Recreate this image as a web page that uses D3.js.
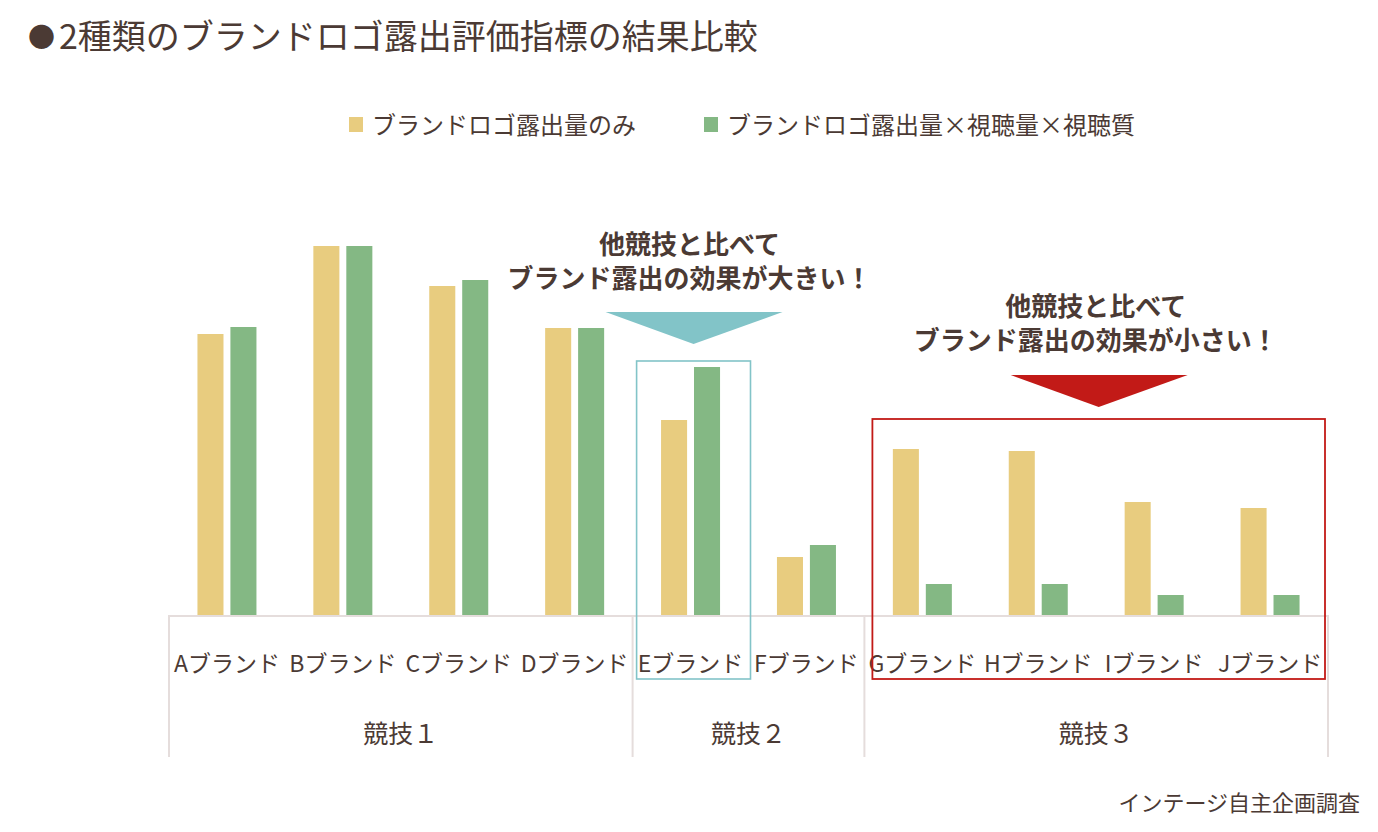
<!DOCTYPE html>
<html lang="ja">
<head>
<meta charset="utf-8">
<script src="https://cdn.jsdelivr.net/npm/d3@7"></script>
<style>
  body { margin: 0; background: #fff; }
  svg text { font-family: "Noto Sans CJK JP", "Noto Sans", sans-serif; fill: #4b3a34; }
</style>
</head>
<body>
<svg id="chart" width="1378" height="832"></svg>
<script>
// data
const brands = ['Aブランド', 'Bブランド', 'Cブランド', 'Dブランド', 'Eブランド',
  'Fブランド', 'Gブランド', 'Hブランド', 'Iブランド', 'Jブランド'];
const sports = ['競技１', '競技２', '競技３'];
const sportOf = [0, 0, 0, 0, 1, 1, 2, 2, 2, 2];
const seriesNames = ['ブランドロゴ露出量のみ', 'ブランドロゴ露出量×視聴量×視聴質'];
const exposureOnly = [281, 369, 329, 287, 195, 58, 166, 164, 113, 107];
const exposureWeighted = [288, 369, 335, 287, 248, 70, 31, 31, 20, 20];

const colors = ['#e8cc7f', '#84b884'];
const gridColor = '#e5dddc';

const svg = d3.select('#chart');
const baseY = 615;

const x = d3.scaleBand().domain(brands).range([169, 1328]);
const xInner = d3.scaleBand().domain([0, 1]).range([0, 59]).paddingInner(0.21);
const y = d3.scaleLinear().domain([0, 369]).range([baseY, 246]);

// title
const title = svg.append('text')
  .attr('x', 28).attr('y', 49);
title.append('tspan')
  .style('font-size', '27px')
  .attr('dy', -2)
  .text('●');
title.append('tspan')
  .style('font-size', '34px')
  .attr('x', 59).attr('dy', 2)
  .text('2種類のブランドロゴ露出評価指標の結果比較');

// legend
const legend = svg.append('g');
const legendX = [349, 704];
seriesNames.forEach((name, i) => {
  legend.append('rect')
    .attr('x', legendX[i]).attr('y', 117).attr('width', 14).attr('height', 15)
    .attr('fill', colors[i]);
  legend.append('text')
    .attr('x', legendX[i] + 23).attr('y', 134)
    .style('font-size', '24px')
    .text(name);
});

// bars
const rows = brands.map((b, i) => ({ brand: b, values: [exposureOnly[i], exposureWeighted[i]] }));
const groups = svg.append('g').selectAll('g')
  .data(rows)
  .join('g')
  .attr('transform', (d) => `translate(${x(d.brand) + (x.bandwidth() - 59) / 2}, 0)`);

groups.selectAll('rect')
  .data((d) => d.values)
  .join('rect')
  .attr('x', (d, i) => xInner(i))
  .attr('width', xInner.bandwidth())
  .attr('y', (d) => y(d))
  .attr('height', (d) => baseY - y(d))
  .attr('fill', (d, i) => colors[i]);

// axis line and group separators
const axis = svg.append('g');
axis.append('line')
  .attr('x1', x.range()[0] - 1).attr('x2', x.range()[1])
  .attr('y1', baseY + 1).attr('y2', baseY + 1)
  .attr('stroke', gridColor).attr('stroke-width', 2);

const sepX = [x(brands[0])];
sports.forEach((s, k) => {
  const last = brands.filter((b, i) => sportOf[i] === k).pop();
  sepX.push(x(last) + x.bandwidth());
});
axis.selectAll('line.sep')
  .data(sepX)
  .join('line')
  .attr('class', 'sep')
  .attr('x1', (d) => d).attr('x2', (d) => d)
  .attr('y1', baseY).attr('y2', 757)
  .attr('stroke', gridColor).attr('stroke-width', 2);

// brand labels
axis.selectAll('text.brand')
  .data(brands)
  .join('text')
  .attr('class', 'brand')
  .attr('x', (d) => x(d) + x.bandwidth() / 2)
  .attr('y', 672)
  .attr('text-anchor', 'middle')
  .style('font-size', '23px')
  .text((d) => d);

// sport labels
axis.selectAll('text.sport')
  .data(sports)
  .join('text')
  .attr('class', 'sport')
  .attr('x', (d, k) => (sepX[k] + sepX[k + 1]) / 2)
  .attr('y', 743)
  .attr('text-anchor', 'middle')
  .style('font-size', '25px')
  .text((d) => d);

// highlight boxes
const eBrand = brands[4];
const blueColor = '#82c4c8';
const blueBox = {
  left: x(eBrand) + 4,
  right: x(eBrand) + x.bandwidth() + 2,
  top: y(exposureWeighted[4]) - 6,
};
svg.append('rect')
  .attr('x', blueBox.left).attr('y', blueBox.top)
  .attr('width', blueBox.right - blueBox.left).attr('height', 679 - blueBox.top)
  .attr('fill', 'none').attr('stroke', blueColor).attr('stroke-width', 1.6);

const redColor = '#c21a17';
const redBox = {
  left: x(brands[6]) + 8,
  right: x(brands[9]) + x.bandwidth() - 3,
  top: y(d3.max(exposureOnly.slice(6))) - 30,
};
svg.append('rect')
  .attr('x', redBox.left).attr('y', redBox.top)
  .attr('width', redBox.right - redBox.left).attr('height', 679 - redBox.top)
  .attr('fill', 'none').attr('stroke', redColor).attr('stroke-width', 1.8);

// arrows
function arrow(cx, top, color) {
  svg.append('path')
    .attr('d', `M${cx - 88},${top} L${cx + 89},${top} L${cx},${top + 32} Z`)
    .attr('fill', color);
}
const blueCx = (blueBox.left + blueBox.right) / 2;
const redCx = (redBox.left + redBox.right) / 2;
arrow(blueCx, 312, blueColor);
arrow(redCx, 375, redColor);

// callouts
function callout(cx, y1, lines) {
  lines.forEach((t, i) => {
    svg.append('text')
      .attr('x', cx).attr('y', y1 + i * 34)
      .attr('text-anchor', 'middle')
      .style('font-size', '26px')
      .style('font-weight', 'bold')
      .text(t);
  });
}
callout(blueCx - 4, 254, ['他競技と比べて', 'ブランド露出の効果が大きい！']);
callout(redCx - 3, 316, ['他競技と比べて', 'ブランド露出の効果が小さい！']);

// source
svg.append('text')
  .attr('x', 1360).attr('y', 811)
  .attr('text-anchor', 'end')
  .style('font-size', '22px')
  .text('インテージ自主企画調査');
</script>
</body>
</html>
